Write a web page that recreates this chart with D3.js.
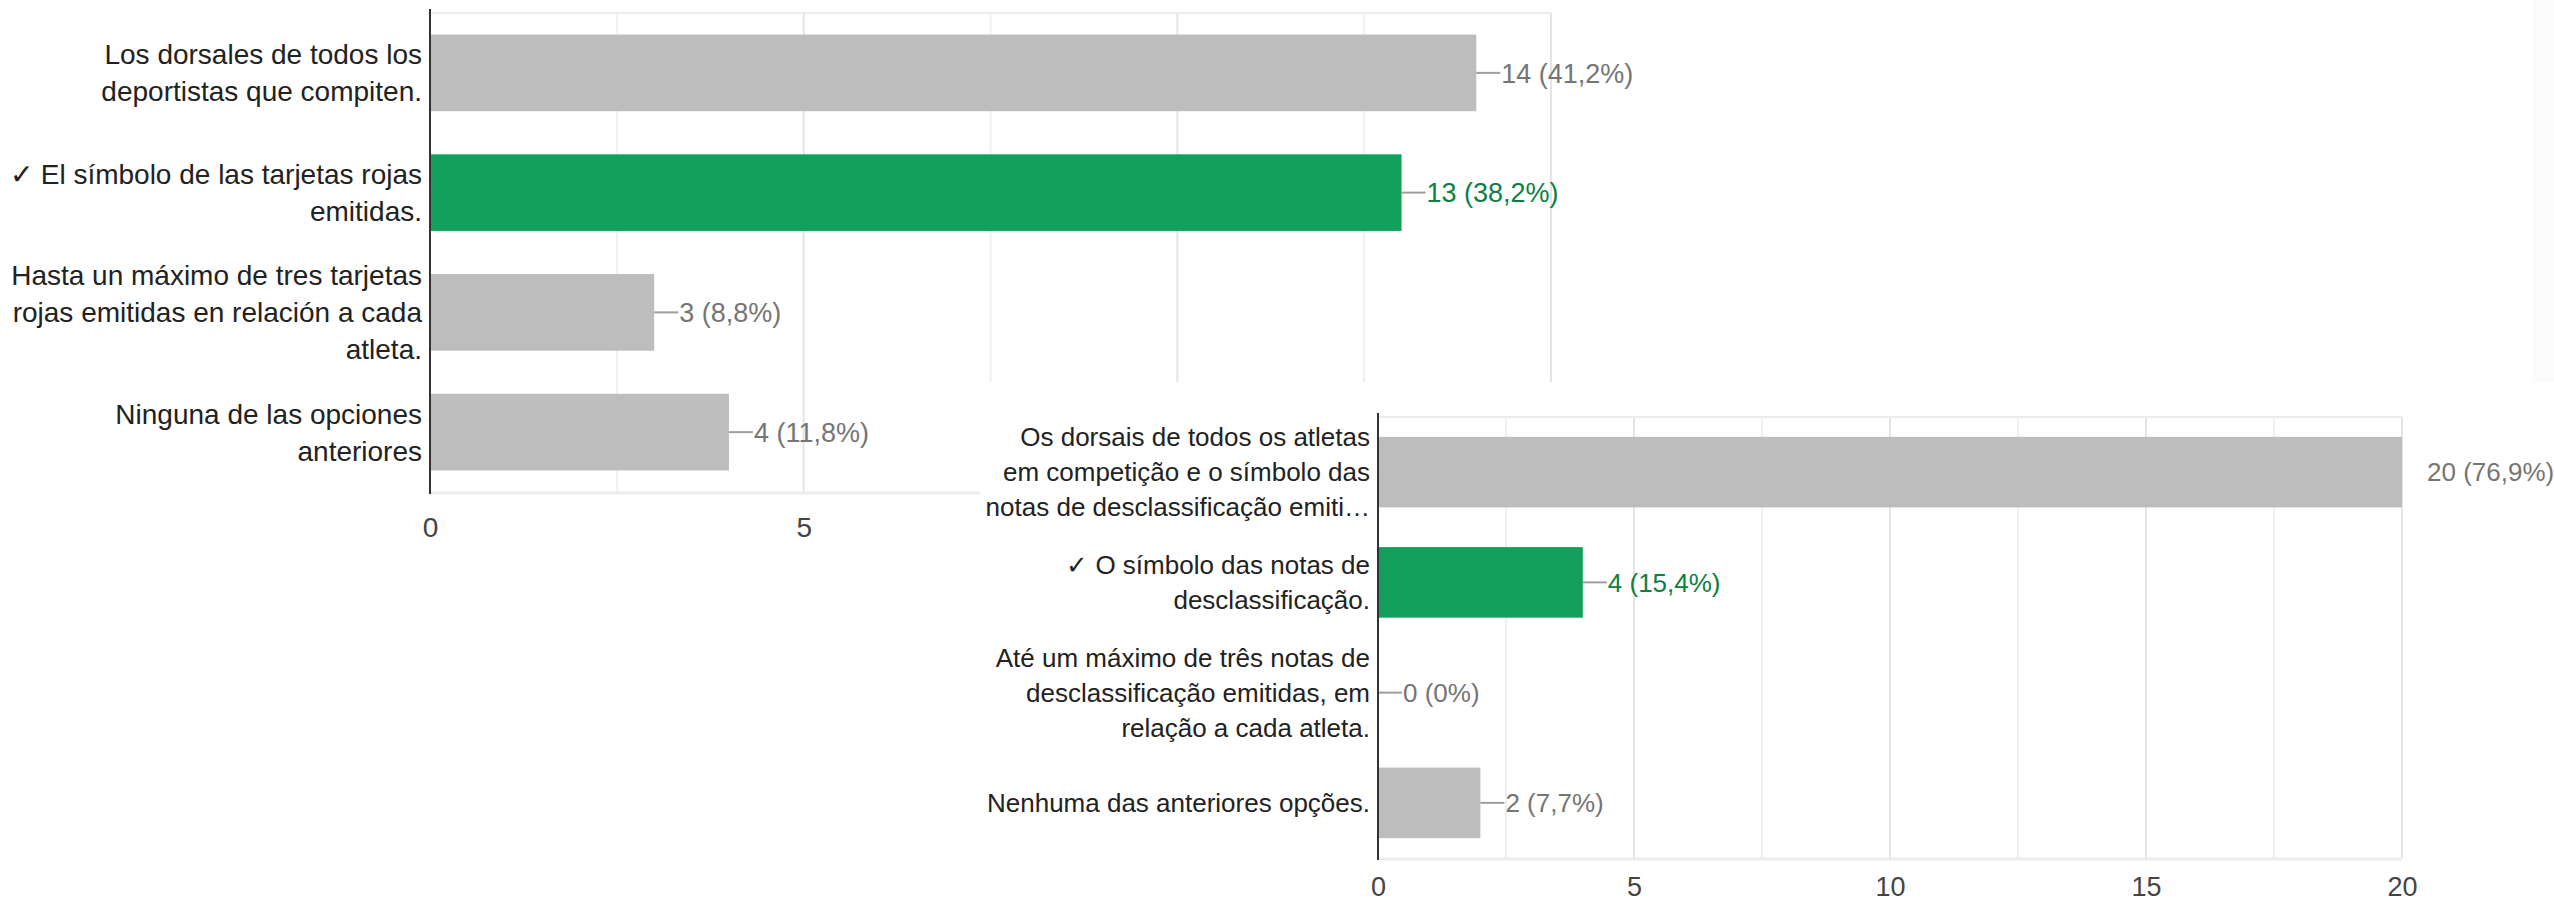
<!DOCTYPE html>
<html>
<head>
<meta charset="utf-8">
<script src="https://cdn.jsdelivr.net/npm/d3@7"></script>
<style>
  html, body { margin: 0; padding: 0; background: #fff; }
  svg { display: block; font-family: "Liberation Sans", Arial, sans-serif; }
</style>
</head>
<body>
<svg id="chart" width="2554" height="898"></svg>
<script>
/*
  Two survey answer charts (ES + PT), the second one laid over the first
*/

// Spanish question
var esCategories = [
  "Los dorsales de todos los\ndeportistas que compiten.",
  "✓ El símbolo de las tarjetas rojas\nemitidas.",
  "Hasta un máximo de tres tarjetas\nrojas emitidas en relación a cada\natleta.",
  "Ninguna de las opciones\nanteriores"
];
var esValues = [14, 13, 3, 4];
var esTotal = 34;
var esCorrect = 1;
var esTicks = [0, 5, 10, 15];

// Portuguese question
var ptCategories = [
  "Os dorsais de todos os atletas\nem competição e o símbolo das\nnotas de desclassificação emiti…",
  "✓ O símbolo das notas de\ndesclassificação.",
  "Até um máximo de três notas de\ndesclassificação emitidas, em\nrelação a cada atleta.",
  "Nenhuma das anteriores opções."
];
var ptValues = [20, 4, 0, 2];
var ptTotal = 26;
var ptCorrect = 1;
var ptTicks = [0, 5, 10, 15, 20];

var GREY_BAR = "#bdbdbd", GREEN_BAR = "#12a05c";
var GREY_TXT = "#757575", GREEN_TXT = "#0b8043";

var pct = d3.formatLocale({decimal: ",", thousands: ".", grouping: [3], currency: ["", "€"]}).format(".1~f");

var svg = d3.select("#chart");

function drawChart(opts){
  var g = svg.append("g");
  var x = d3.scaleLinear().domain([0, opts.max]).range([opts.left, opts.right]);
  var y = d3.scaleBand().domain(d3.range(opts.categories.length))
    .range([opts.top, opts.bottom]).paddingInner(0.36).paddingOuter(0.18);

  //grid, every 2.5
  var gridVals = d3.range(2.5, opts.max + 0.01, 2.5);
  g.selectAll(".grid").data(gridVals).enter().append("line")
    .attr("x1", function(d){ return x(d); })
    .attr("x2", function(d){ return x(d); })
    .attr("y1", opts.top).attr("y2", opts.bottom)
    .attr("stroke", function(d){ return d % 5 == 0 ? "#e4e4e4" : "#f0f0f0"; })
    .attr("stroke-width", 2);

  //light frame top / bottom
  g.append("line").attr("x1", opts.left).attr("x2", opts.right)
    .attr("y1", opts.top).attr("y2", opts.top).attr("stroke", "#ececec").attr("stroke-width", 2);
  g.append("line").attr("x1", opts.left).attr("x2", opts.right)
    .attr("y1", opts.bottom + 1).attr("y2", opts.bottom + 1).attr("stroke", "#ececec").attr("stroke-width", 3);

  //bars
  g.selectAll(".bar").data(opts.values).enter().append("rect")
    .attr("x", x(0))
    .attr("y", function(d, i){ return y(i); })
    .attr("width", function(d){ return x(d) - x(0); })
    .attr("height", y.bandwidth())
    .attr("fill", function(d, i){ return i == opts.correct ? GREEN_BAR : GREY_BAR; });

  //stems + value labels
  opts.values.forEach(function(v, i){
    var cy = y(i) + y.bandwidth() / 2;
    if(v < opts.max){
      g.append("line").attr("x1", x(v)).attr("x2", x(v) + 24)
        .attr("y1", cy).attr("y2", cy)
        .attr("stroke", "#9e9e9e").attr("stroke-width", 2);
    }
    g.append("text")
      .attr("x", x(v) + 25).attr("y", cy)
      .attr("dy", "0.36em")
      .attr("font-size", opts.valueSize)
      .attr("fill", i == opts.correct ? GREEN_TXT : GREY_TXT)
      .text(v + " (" + pct(v / opts.total * 100) + "%)");
  });

  //y axis line
  g.append("line").attr("x1", x(0)).attr("x2", x(0))
    .attr("y1", opts.top - 4).attr("y2", opts.bottom + 2)
    .attr("stroke", "#333").attr("stroke-width", 2);

  //category labels
  opts.categories.forEach(function(c, i){
    var lines = c.split("\n");
    var cy = y(i) + y.bandwidth() / 2;
    var t = g.append("text")
      .attr("text-anchor", "end")
      .attr("font-size", opts.labelSize)
      .attr("fill", "#222");
    lines.forEach(function(l, k){
      t.append("tspan")
        .attr("x", x(0) - 8)
        .attr("y", cy + (k - (lines.length - 1) / 2) * opts.lineHeight)
        .attr("dy", "0.36em")
        .text(l);
    });
  });

  //x ticks
  var axis = g.append("g")
    .attr("transform", "translate(0," + opts.tickY + ")")
    .call(d3.axisBottom(x).tickValues(opts.ticks).tickSize(0).tickPadding(0));
  axis.select(".domain").remove();
  axis.selectAll("text")
    .attr("font-size", opts.tickSize)
    .attr("font-family", "'Liberation Sans', Arial, sans-serif")
    .attr("fill", "#444")
    .attr("dy", "0.36em");

  return g;
}

drawChart({
  categories: esCategories, values: esValues, total: esTotal, correct: esCorrect, ticks: esTicks,
  max: 15, left: 430, right: 1551, top: 13, bottom: 492, tickY: 527,
  labelSize: 28, valueSize: 27, tickSize: 28, lineHeight: 37
});

//second card covers the lower right of the first one
svg.append("rect").attr("x", 980).attr("y", 382).attr("width", 2554 - 980).attr("height", 898 - 382).attr("fill", "#fff");
svg.append("rect").attr("x", 2533).attr("y", 0).attr("width", 21).attr("height", 382).attr("fill", "#fcfbfc");

drawChart({
  categories: ptCategories, values: ptValues, total: ptTotal, correct: ptCorrect, ticks: ptTicks,
  max: 20, left: 1378, right: 2402, top: 417, bottom: 858, tickY: 886,
  labelSize: 26, valueSize: 26, tickSize: 27, lineHeight: 35
});
</script>
</body>
</html>
